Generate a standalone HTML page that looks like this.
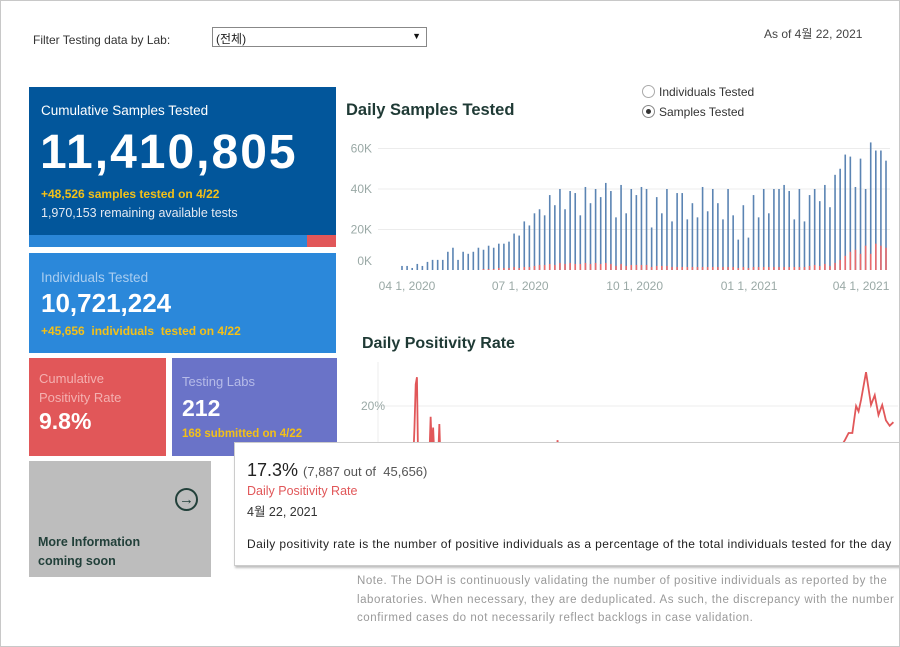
<!DOCTYPE html>
<html><head><meta charset="utf-8">
<style>
body{margin:0;background:#fff;font-family:"Liberation Sans","Noto Sans CJK KR",sans-serif;}
#page{position:relative;width:900px;height:647px;box-sizing:border-box;border:1px solid #c8c8c8;overflow:hidden;background:#fff;}
.a{position:absolute;white-space:nowrap;}
.tile{position:absolute;}
</style></head><body>
<div id="page">
<div class="a" style="left:32px;top:32px;font-size:12px;color:#333;">Filter Testing data by Lab:</div>
<div class="a" style="left:211px;top:26px;width:213px;height:18px;border:1px solid #888;background:#fff;">
 <span class="a" style="left:3px;top:2px;font-size:12px;color:#222;">(전체)</span>
 <span class="a" style="right:5px;top:3px;font-size:9px;color:#111;">▼</span>
</div>
<div class="a" style="left:763px;top:24px;font-size:12px;color:#444;">As of 4월 22, 2021</div>

<div class="tile" style="left:28px;top:86px;width:307px;height:148px;background:#02569b;">
 <div class="a" style="left:12px;top:16px;font-size:13.5px;color:#fff;">Cumulative Samples Tested</div>
 <div class="a" style="left:11px;top:38px;font-size:48px;font-weight:bold;color:#fff;letter-spacing:2px;">11,410,805</div>
 <div class="a" style="left:12px;top:100px;font-size:12px;font-weight:bold;color:#f3c018;">+48,526 samples tested on 4/22</div>
 <div class="a" style="left:12px;top:119px;font-size:12.5px;color:#e4e9f2;">1,970,153 remaining available tests</div>
</div>
<div class="tile" style="left:28px;top:234px;width:278px;height:12px;background:#2a86d8;"></div>
<div class="tile" style="left:306px;top:234px;width:29px;height:12px;background:#e15759;"></div>

<div class="tile" style="left:28px;top:252px;width:307px;height:100px;background:#2b88da;">
 <div class="a" style="left:12px;top:17px;font-size:13.5px;color:#a9cdf0;">Individuals Tested</div>
 <div class="a" style="left:12px;top:35px;font-size:26px;font-weight:bold;color:#fff;">10,721,224</div>
 <div class="a" style="left:12px;top:71px;font-size:12px;font-weight:bold;color:#f3c018;">+45,656&nbsp; individuals&nbsp; tested on 4/22</div>
</div>

<div class="tile" style="left:28px;top:357px;width:137px;height:98px;background:#e15759;">
 <div class="a" style="left:10px;top:11px;font-size:13px;color:#f4b0b0;line-height:19px;">Cumulative<br>Positivity Rate</div>
 <div class="a" style="left:10px;top:50px;font-size:23px;font-weight:bold;color:#fff;">9.8%</div>
</div>
<div class="tile" style="left:171px;top:357px;width:165px;height:98px;background:#6a73c8;">
 <div class="a" style="left:10px;top:16px;font-size:13px;color:#b6bbe8;">Testing Labs</div>
 <div class="a" style="left:10px;top:37px;font-size:23px;font-weight:bold;color:#fff;">212</div>
 <div class="a" style="left:10px;top:70px;font-size:11.5px;font-weight:bold;color:#f3c018;">168 submitted on 4/22</div>
</div>
<div class="tile" style="left:28px;top:460px;width:182px;height:116px;background:#bdbdbd;">
 <div class="a" style="left:146px;top:27px;width:19px;height:19px;border:2px solid #22403a;border-radius:50%;text-align:center;line-height:19px;font-size:15px;color:#22403a;font-weight:bold;">→</div>
 <div class="a" style="left:9px;top:72px;font-size:12.5px;font-weight:bold;color:#22403a;line-height:19px;">More Information<br>coming soon</div>
</div>

<div class="a" style="left:345px;top:100px;font-size:16.5px;font-weight:bold;color:#1f3a35;">Daily Samples Tested</div>
<div class="a" style="left:641px;top:84px;font-size:12px;color:#333;"><span style="display:inline-block;width:11px;height:11px;border:1px solid #aaa;border-radius:50%;vertical-align:-2px;margin-right:4px;"></span>Individuals Tested</div>
<div class="a" style="left:641px;top:104px;font-size:12px;color:#333;"><span style="display:inline-block;width:11px;height:11px;border:1px solid #888;border-radius:50%;vertical-align:-2px;margin-right:4px;position:relative;"><span style="position:absolute;left:3px;top:3px;width:5px;height:5px;border-radius:50%;background:#333;"></span></span>Samples Tested</div>

<svg class="a" style="left:-1px;top:-1px;" width="900" height="647" id="charts"></svg>

<div class="a" style="left:361px;top:334px;font-size:16px;font-weight:bold;color:#1f3a35;">Daily Positivity Rate</div>

<div class="a" style="left:233px;top:441px;width:670px;height:122px;background:#fff;border:1px solid #ccc;box-shadow:1px 2px 2px rgba(0,0,0,0.25);">
 <div class="a" style="left:12px;top:17px;font-size:18px;color:#222;">17.3% <span style="font-size:13px;color:#555;">(7,887 out of&nbsp; 45,656)</span></div>
 <div class="a" style="left:12px;top:41px;font-size:12.5px;color:#e15759;">Daily Positivity Rate</div>
 <div class="a" style="left:12px;top:58px;font-size:12.5px;color:#333;">4월 22, 2021</div>
 <div class="a" style="left:12px;top:94px;font-size:12px;letter-spacing:0.4px;color:#222;">Daily positivity rate is the number of positive individuals as a percentage of the total individuals tested for the day</div>
</div>
<div class="a" style="left:356px;top:571px;font-size:11.5px;letter-spacing:0.55px;color:#999;line-height:18.5px;">Note. The DOH is continuously validating the number of positive individuals as reported by the<br>laboratories. When necessary, they are deduplicated. As such, the discrepancy with the number<br>confirmed cases do not necessarily reflect backlogs in case validation.</div>
</div>
<script>
const samples=[2,2,1,3,2,4,5,5,5,9,11,5,9,8,9,11,10,12,11,13,13,14,18,17,24,22,28,30,27,37,32,40,30,39,38,27,41,33,40,36,43,39,26,42,28,40,37,41,40,21,36,28,40,24,38,38,25,33,26,41,29,40,33,25,40,27,15,32,16,37,26,40,28,40,40,42,39,25,40,24,37,40,34,42,31,47,50,57,56,41,55,40,63,59,59,54];
const positives=[0,0,0,0,0,0,0,0,0,0,0,0,0,0,0,0,0.5,0.5,0.5,1,1,1,1.5,1,1.5,1.5,2,2.5,2.5,3,2.5,3.5,3,3.5,3,3,3.5,3,3.5,3,3.5,3,2,3,2,2.5,2.5,2.5,2.5,1.5,2,2,2,1.5,1.5,1.5,1.5,1.5,1.5,1.5,1.5,1.5,1.5,1.5,1.5,1.5,1,1.5,1,1.5,1.5,1.5,1.5,1.5,1.5,1.5,1.5,1.5,1.5,1.5,2,2.5,2,3,2,3.5,5,7,9,10,8,12,8,13,12,11,10];
const yTicks=[0,20,40,60];
const xTickLabels=["04 1, 2020","07 1, 2020","10 1, 2020","01 1, 2021","04 1, 2021"];
const xTickDays=[0,91,183,275,365];
const rateDays=[0,5,6,7,8,9,15,18,19,20,21,22,25,26,27,40,80,120,121,123,160,250,340,352,355,358,361,363,365,369,373,376,379,382,385,388,391];
const rateValues=[5,5,14,26,28,3,4,6,17,8,14,6,5,15,4,3,3,3,10.5,3,3,3,4,10.5,12.5,12.5,20,18.5,21.7,29.4,20.3,23,17.5,20.3,16,14.5,15.5];
const rateTicks=[20];
const NS="http://www.w3.org/2000/svg";
const svg=document.getElementById('charts');
function mk(t,a){const e=document.createElementNS(NS,t);for(const k in a)e.setAttribute(k,a[k]);svg.appendChild(e);return e;}
const bx0=402,bx1=886,by0=270,byPer=40.5/20;
const bx=i=>bx0+i*(bx1-bx0)/(samples.length-1);
const by=v=>by0-v*byPer;
const dx=d=>407+d*1.244;
yTicks.forEach(t=>{
 if(t>0){const g=mk('line',{x1:378,x2:890,y1:by(t),y2:by(t),stroke:'#ececec','stroke-width':1});
 
 }
 const tx=mk('text',{x:372,y:(t===0?265:by(t)+4),'text-anchor':'end','font-size':12,fill:'#9aa9a6','font-family':'Liberation Sans, sans-serif'});
 tx.textContent=t+'K';
 
 
});
xTickLabels.forEach((l,i)=>{
 const tx=mk('text',{x:dx(xTickDays[i]),y:290,'text-anchor':'middle','font-size':12,fill:'#9aa9a6','font-family':'Liberation Sans, sans-serif'});
 tx.textContent=l;
 
 
});
samples.forEach((v,i)=>{
 const x=bx(i);
 const b=mk('rect',{x:x-0.8,y:by(v),width:1.6,height:by0-by(v),fill:'#5b84b3'});
 
 
 const p=positives[i];
 if(p>0){const r=mk('rect',{x:x-0.8,y:by(p),width:1.6,height:by0-by(p),fill:'#e86b6d'});
 
 }
});
const ry=v=>478-v*3.6;
mk('line',{x1:378,x2:378,y1:362,y2:442,stroke:'#eee'});
rateTicks.forEach(t=>{
 const g=mk('line',{x1:378,x2:898,y1:ry(t),y2:ry(t),stroke:'#ececec'});
 
 
 const tx=mk('text',{x:385,y:ry(t)+4,'text-anchor':'end','font-size':12,fill:'#9aa9a6','font-family':'Liberation Sans, sans-serif'});
 tx.textContent=t+'%';
 
 
});
const pts=rateDays.map((d,i)=>dx(d)+','+ry(rateValues[i])).join(' ');
const ln=mk('polyline',{points:pts,fill:'none',stroke:'#e15759','stroke-width':1.8});


</script>
</body></html>
